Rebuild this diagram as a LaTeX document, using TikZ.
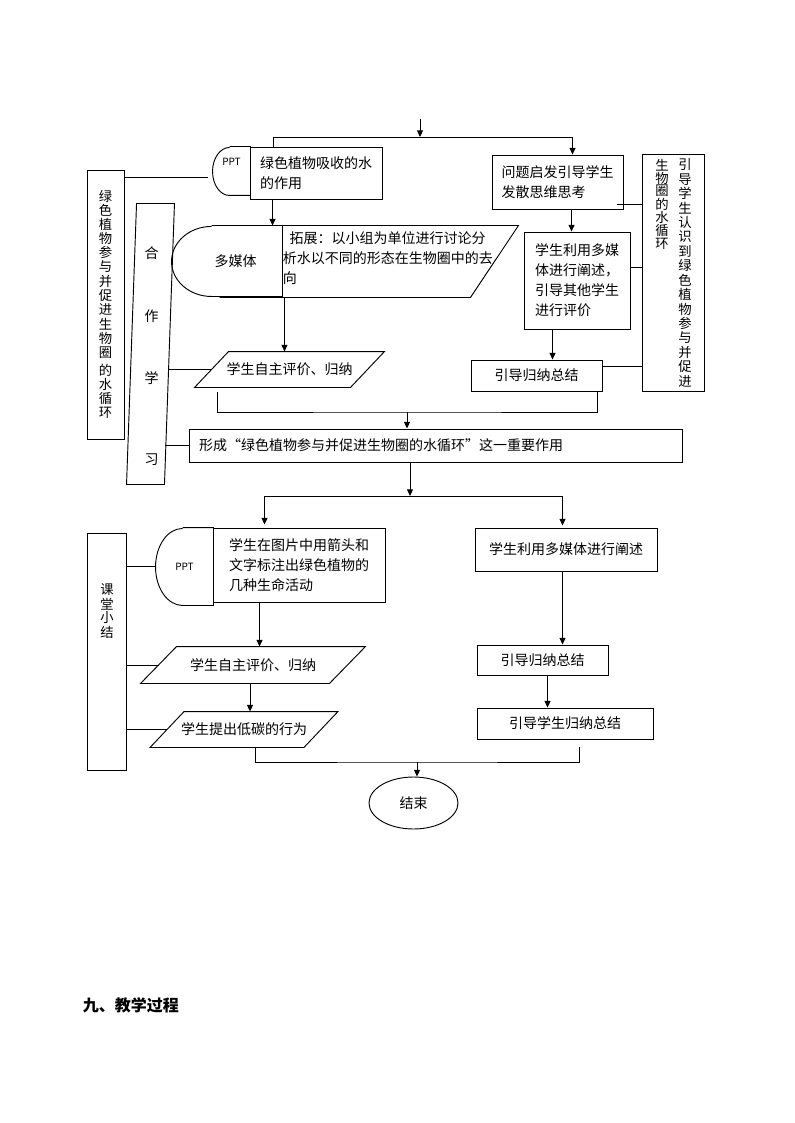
\documentclass[tikz,border=0pt]{standalone}
\usepackage{fontspec}
\setmainfont{Noto Sans CJK SC}
\usetikzlibrary{arrows.meta,calc,shapes.geometric,positioning}

% parallelogram drawn round a blank node
\newcommand\slantbox[2]{%
  \draw ($(#1.north west)+(#2,0)$) -- ($(#1.north east)+(#2,0)$) --
        ($(#1.south east)+(-#2,0)$) -- ($(#1.south west)+(-#2,0)$) -- cycle;}
% box with a rounded left side
\newcommand\halfround[3]{%
  \draw ($(#1.north west)+(#2,0)$) -- (#1.north east) -- (#1.south east) --
        ($(#1.south west)+(#2,0)$) arc[start angle=90, end angle=270, x radius=#2, y radius=#3];}

\begin{document}
\begin{tikzpicture}[x=0.75pt,y=-0.75pt,
  line width=0.7pt,
  every node/.style={font=\fontsize{10.5}{15}\selectfont},
  box/.style 2 args={draw, rectangle, inner sep=0pt, minimum width=#1*0.75pt, minimum height=#2*0.75pt, align=left},
  blank/.style 2 args={rectangle, inner sep=0pt, minimum width=#1*0.75pt, minimum height=#2*0.75pt},
  vchar/.style={font=\fontsize{10}{12}\selectfont, inner sep=0pt},
  pptfont/.style={font=\fontsize{7.5}{9}\selectfont},
  arr/.style={-{Triangle[length=5pt,width=4.5pt]}}
]
\useasboundingbox (0,0) rectangle (794,1123);

\coordinate (top) at (420,119);
\coordinate (fork1) at (420,137);

% upper left part
\node[blank={37}{48}, pptfont, text depth=13pt] (ppt1) at (231.5,171) {PPT};
\halfround{ppt1}{17}{24}
\node[box={132}{52}] (lbox) at (316,173) {绿色植物吸收的水\\的作用};

\node[blank={110}{70}] (mm) at (227,261) {\hspace{13pt}多媒体};
\halfround{mm}{40}{35}
\draw (mm.north east) -- ($(mm.north east)+(236,0)$) -- ($(mm.south east)+(188,1)$) -- ($(mm.south west)+(48,1)$);
\node[anchor=north west, inner sep=0pt, align=left] (kz) at ($(mm.north east)+(0,6)$)
  {\hspace{5pt}拓展：以小组为单位进行讨论分\\析水以不同的形态在生物圈中的去\\向};

\node[blank={155}{35}] (par1) at (289.5,369.5) {学生自主评价、归纳};
\slantbox{par1}{17}

\node[blank={37}{280}] (hz) at (150.5,344) {};
\slantbox{hz}{5}
\foreach \c/\y [count=\i] in {合/253,作/316,学/378,习/460}
  \node (hz-\i) at (151.5,\y) {\c};

\node[box={37}{269}] (lv) at (105.5,304.5) {};
\foreach \c [count=\i from 0] in {绿,色,植,物,参,与,并,促,进,生,物,圈}
  \node[vchar] (lv-\i) at (105.5,{196+14.2*\i}) {\c};
\foreach \c [count=\i from 0] in {的,水,循,环}
  \node[vchar] (lw-\i) at (105.5,{370+14.2*\i}) {\c};

% upper right part
\node[box={131}{54}] (wt) at (557.5,182) {问题启发引导学生\\发散思维思考};
\node[box={106}{97}] (dmt) at (577,280.5) {学生利用多媒\\体进行阐述，\\引导其他学生\\进行评价};
\node[box={131}{31}] (gn1) at (536.5,375.5) {引导归纳总结};
\node[box={62}{237}] (rv) at (673,272.5) {};
\foreach \c [count=\i from 0] in {引,导,学,生,认,识,到,绿,色,植,物,参,与,并,促,进}
  \node[vchar] (rv-\i) at (685,{165+14.4*\i}) {\c};
\foreach \c [count=\i from 0] in {生,物,圈,的,水,循,环}
  \node[vchar] (rw-\i) at (662,{165+13.1*\i}) {\c};

% middle
\node[box={493}{33}, text width=473*0.75pt, inner xsep=7.5pt] (xing) at (435.5,445.5)
  {形成\makebox[1em][r]{“}绿色植物参与并促进生物圈的水循环\makebox[1em][l]{”}这一重要作用};
\coordinate (join1) at (407,412);
\coordinate (fork2) at (410,496);

% lower left part
\node[blank={57}{77}, pptfont] (ppt2) at (184.5,566.5) {PPT};
\halfround{ppt2}{27}{38.5}
\node[box={172}{74}] (lt2) at (299,565) {学生在图片中用箭头和\\文字标注出绿色植物的\\几种生命活动};
\node[blank={188}{36}] (par2) at (253,665) {学生自主评价、归纳};
\slantbox{par2}{18}
\node[blank={153}{35}] (par3) at (244,729.5) {学生提出低碳的行为};
\slantbox{par3}{17}
\node[box={39}{237}] (kt) at (106.5,651.5) {};
\foreach \c [count=\i from 0] in {课,堂,小,结}
  \node[vchar] (kt-\i) at (107,{590+14*\i}) {\c};

% lower right part
\node[box={182}{43}] (dm2) at (566,549.5) {学生利用多媒体进行阐述};
\node[box={131}{30}] (gn2) at (542.5,660) {引导归纳总结};
\node[box={176}{31}] (gn3) at (565,723.5) {引导学生归纳总结};
\node[draw, ellipse, minimum width=89*0.75pt, minimum height=52*0.75pt, inner sep=0pt] (jieshu) at (413.5,803) {结束};
\coordinate (join2) at (417,762);

\node[anchor=west, font=\fontsize{12}{14}\selectfont\bfseries] (title) at (78,1005) {九、教学过程};

% arrows
\draw[arr] (top) -- (fork1);
\draw (fork1) -| ($(lbox.north west)+(24,0)$);
\draw[arr] (fork1) -| ($(wt.north west)+(81,0)$);
\draw[arr] ($(lbox.south west)+(23,0)$) coordinate (a1) -- (a1 |- mm.north);
\draw[arr] ($(mm.south east)+(2,1)$) coordinate (a2) -- (a2 |- par1.north);
\draw ($(par1.south west)+(6,5)$) |- (join1) -| ($(gn1.south east)+(-5,1)$);
\draw[arr] (join1) -- (join1 |- xing.north);
\draw[arr] ($(wt.south west)+(80,0)$) coordinate (a7) -- (a7 |- dmt.north);
\draw[arr] ($(dmt.south west)+(29,0)$) coordinate (a8) -- (a8 |- gn1.north);

\draw[arr] (fork2 |- xing.south) -- (fork2);
\draw[arr] (fork2) -| ($(lt2.north west)+(52,-3)$);
\draw[arr] (fork2) -| ($(dm2.north west)+(88,-2)$);
\draw[arr] ($(lt2.south west)+(47,0)$) coordinate (a3) -- (a3 |- par2.north);
\draw[arr] ($(par2.south)+(-3,0)$) coordinate (a4) -- (a4 |- par3.north);
\draw[arr] ($(dm2.south west)+(88,0)$) coordinate (a5) -- (a5 |- gn2.north);
\draw[arr] ($(gn2.south west)+(71,0)$) coordinate (a6) -- (a6 |- gn3.north);
\draw ($(par3.south)+(11,0)$) |- (join2) -| ($(gn3.south east)+(-74,8)$);
\draw[arr] (join2) -- (join2 |- jieshu.north);

% side lines
\draw ($(lv.north east)+(0,8)$) coordinate (b1) -- ($(b1 -| ppt1.west)+(-5,0)$);
\draw (hz.east |- par1.west) -- (par1.west);
\draw ($(hz.east |- xing.west)+(-4,0)$) -- (xing.west);
\draw (kt.east |- ppt2.west) -- (ppt2.west);
\draw (kt.east |- par2.west) -- (par2.west);
\draw (kt.east |- par3.west) -- (par3.west);
\draw ($(rv.north west)+(0,51)$) coordinate (r1) -- ($(r1 -| wt.east)+(-6,0)$);
\draw ($(rv.north west)+(0,114)$) coordinate (r2) -- (r2 -| dmt.east);
\draw ($(rv.north west)+(0,213)$) coordinate (r3) -- (r3 -| gn1.east);
\end{tikzpicture}
\end{document}
